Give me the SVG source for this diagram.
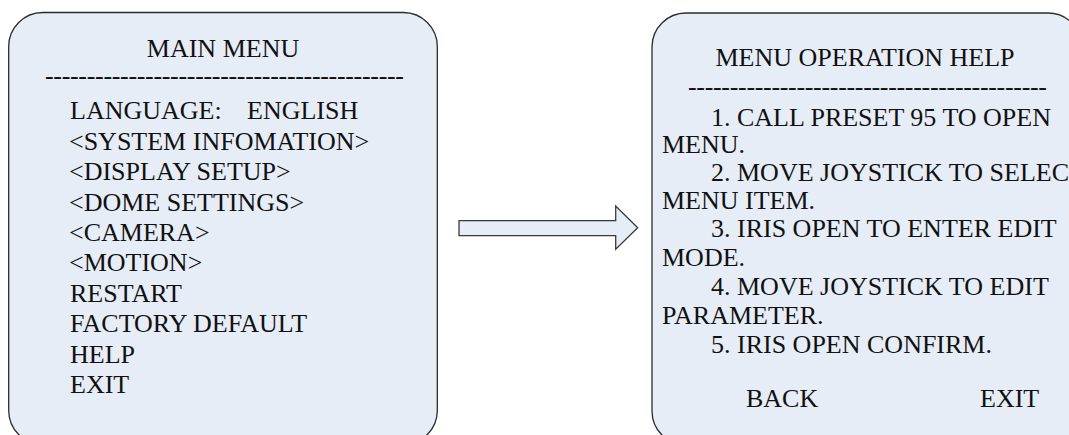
<svg xmlns="http://www.w3.org/2000/svg" width="1069" height="435" viewBox="0 0 1069 435">
<style>
.box{fill:#E6EDF7;stroke:#2b2b2b;stroke-width:1.3}
.arrow{fill:#E6EDF7;stroke:#3a3a3a;stroke-width:1.3}
</style>
<rect width="1069" height="435" fill="#ffffff"/>
<g id="main-menu">
<rect class="box" x="8.7" y="12.5" width="428.6" height="432" rx="34" ry="34"/>
<text font-family="Liberation Serif" font-size="26" fill="#111" text-anchor="middle" x="223" y="57">MAIN MENU</text>
<text font-family="Liberation Serif" font-size="26" fill="#111" x="45" y="84" textLength="359" lengthAdjust="spacing">-------------------------------------------</text>
<text font-family="Liberation Serif" font-size="26" fill="#111" x="70" y="119">LANGUAGE: <tspan x="247">ENGLISH</tspan></text>
<text font-family="Liberation Serif" font-size="26" fill="#111" x="69" y="149.5">&lt;SYSTEM INFOMATION&gt;</text>
<text font-family="Liberation Serif" font-size="26" fill="#111" x="69" y="180">&lt;DISPLAY SETUP&gt;</text>
<text font-family="Liberation Serif" font-size="26" fill="#111" x="69" y="210.5">&lt;DOME SETTINGS&gt;</text>
<text font-family="Liberation Serif" font-size="26" fill="#111" x="69" y="241">&lt;CAMERA&gt;</text>
<text font-family="Liberation Serif" font-size="26" fill="#111" x="69" y="271">&lt;MOTION&gt;</text>
<text font-family="Liberation Serif" font-size="26" fill="#111" x="70" y="301.5">RESTART</text>
<text font-family="Liberation Serif" font-size="26" fill="#111" x="70" y="332">FACTORY DEFAULT</text>
<text font-family="Liberation Serif" font-size="26" fill="#111" x="70" y="362.5">HELP</text>
<text font-family="Liberation Serif" font-size="26" fill="#111" x="70" y="393">EXIT</text>
</g>
<g id="connectors">
<path class="arrow" d="M459,220.7 L615.7,220.7 L615.7,206 L637.7,227.7 L615.7,249.3 L615.7,235.7 L459,235.7 Z"/>
</g>
<g id="help-menu">
<rect class="box" x="652" y="13" width="430" height="432" rx="34" ry="34"/>
<text font-family="Liberation Serif" font-size="26" fill="#111" text-anchor="middle" x="865" y="66">MENU OPERATION HELP</text>
<text font-family="Liberation Serif" font-size="26" fill="#111" x="688" y="95" textLength="359" lengthAdjust="spacing">-------------------------------------------</text>
<text font-family="Liberation Serif" font-size="26" fill="#111" x="711" y="126">1. CALL PRESET 95 TO OPEN</text>
<text font-family="Liberation Serif" font-size="26" fill="#111" x="662" y="153">MENU.</text>
<text font-family="Liberation Serif" font-size="26" fill="#111" x="711" y="181">2. MOVE JOYSTICK TO SELECT</text>
<text font-family="Liberation Serif" font-size="26" fill="#111" x="662" y="209">MENU ITEM.</text>
<text font-family="Liberation Serif" font-size="26" fill="#111" x="711" y="237">3. IRIS OPEN TO ENTER EDIT</text>
<text font-family="Liberation Serif" font-size="26" fill="#111" x="662" y="266">MODE.</text>
<text font-family="Liberation Serif" font-size="26" fill="#111" x="711" y="295">4. MOVE JOYSTICK TO EDIT</text>
<text font-family="Liberation Serif" font-size="26" fill="#111" x="662" y="324">PARAMETER.</text>
<text font-family="Liberation Serif" font-size="26" fill="#111" x="711" y="353">5. IRIS OPEN CONFIRM.</text>
<text font-family="Liberation Serif" font-size="26" fill="#111" x="746" y="407">BACK</text>
<text font-family="Liberation Serif" font-size="26" fill="#111" x="980" y="407">EXIT</text>
</g>
</svg>
